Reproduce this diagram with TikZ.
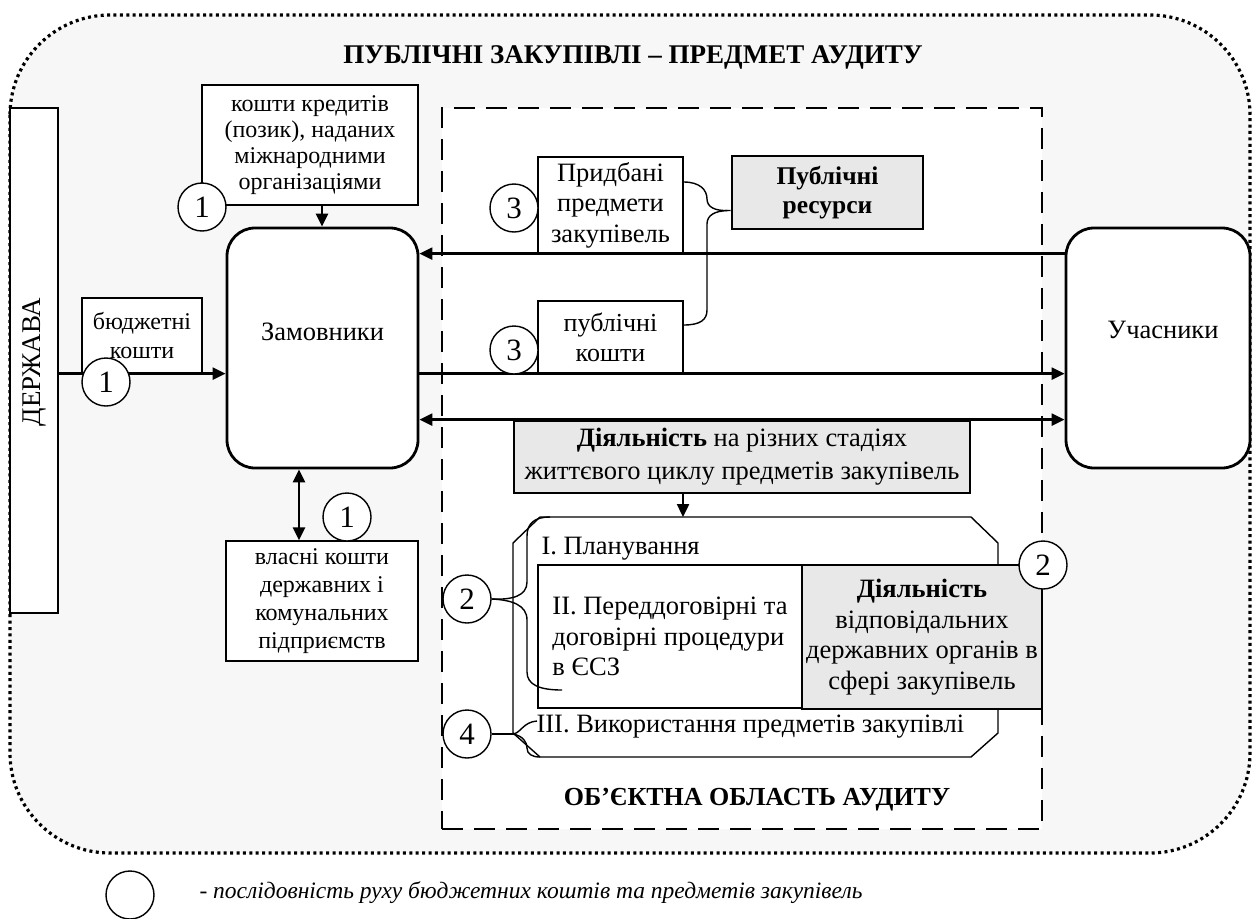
\documentclass[tikz,border=0pt]{standalone}
\usepackage{fontspec}
\setmainfont{Liberation Serif}
\usetikzlibrary{arrows.meta,calc}
\definecolor{bgout}{HTML}{F7F7F7}
\definecolor{graybox}{HTML}{E8E8E8}
\newcommand\basefont{\fontsize{26.5}{30.5}\selectfont}
\newcommand\smallfont{\fontsize{24}{28}\selectfont}
\begin{document}
\begin{tikzpicture}[x=1pt,y=-1pt,font=\basefont,
  thinbox/.style={draw,line width=1.3pt,fill=white,inner sep=0pt,align=center},
  thickbox/.style={draw,line width=2.8pt,inner sep=0pt,align=center},
  roundbox/.style={draw,line width=2.8pt,fill=white,rounded corners=28pt,inner sep=0pt},
  num/.style={circle,draw,line width=1.4pt,fill=white,minimum size=48pt,inner sep=0pt,font=\fontsize{31}{32}\selectfont},
  flow/.style={line width=2.4pt,-{Triangle[length=13pt,width=12pt]}},
  flowboth/.style={line width=2.4pt,{Triangle[length=13pt,width=12pt]}-{Triangle[length=13pt,width=12pt]}},
  brace/.style={line width=1.4pt}]
\useasboundingbox (0,0) rectangle (1252,918);
% outer region
\draw[fill=bgout,line width=3.2pt,dash pattern=on 3pt off 3.4pt,rounded corners=100pt] (10,15) rectangle (1250,853);
\node[font=\fontsize{27}{30}\selectfont\bfseries] (title) at (633,57) {ПУБЛІЧНІ ЗАКУПІВЛІ – ПРЕДМЕТ АУДИТУ};
% scope box
\node[draw,line width=2.8pt,dash pattern=on 21pt off 11pt,fill=white,minimum width=600pt,minimum height=721pt,inner sep=0pt] (scope) at (742,468.5) {};
\node[font=\fontsize{26}{30}\selectfont\bfseries] (scopetxt) at (757,800) {ОБ’ЄКТНА ОБЛАСТЬ АУДИТУ};
% left side
\node[thinbox,minimum width=48pt,minimum height=505pt] (derzh) at (34,360.5) {};
\node[rotate=90,font=\fontsize{27}{30}\selectfont] (derzhtxt) at (34,362) {ДЕРЖАВА};
\node[thinbox,minimum width=216pt,minimum height=120pt,font=\fontsize{24}{26}\selectfont] (kredyt) at (310,145) {кошти кредитів\\(позик), наданих\\міжнародними\\організаціями};
\node[roundbox,minimum width=191pt,minimum height=240pt] (zamov) at (322.5,348) {};
\node (zamovtxt) at (322.5,332) {Замовники};
\node[thinbox,minimum width=120pt,minimum height=75pt,font=\fontsize{24}{29}\selectfont] (budzh) at (142,335.5) {бюджетні\\кошти};
\node[thinbox,minimum width=192pt,minimum height=120pt,font=\smallfont] (vlasni) at (322,601) {власні кошти\\державних і\\комунальних\\підприємств};
% right side
\node[roundbox,minimum width=184pt,minimum height=240pt] (uchas) at (1158,348) {};
\node (uchastxt) at (1163,330) {Учасники};
% connectors
\coordinate (xk) at (322,0);
\coordinate (xv) at (299,0);
\draw[flow] (xk |- kredyt.south) -- (xk |- zamov.north);
\draw[flow] (derzh.east |- budzh.south) -- (zamov.west |- budzh.south);
\draw[flowboth] (xv |- zamov.south) -- (xv |- vlasni.north);
% resources
\node[thinbox,minimum width=145pt,minimum height=96pt] (prydb) at (610.5,205) {Придбані\\предмети\\закупівель};
\node[thinbox,minimum width=145pt,minimum height=72pt,font=\fontsize{26}{30}\selectfont] (publ) at (610.5,337) {публічні\\кошти};
\node[thickbox,fill=graybox,minimum width=191pt,minimum height=73pt,font=\fontsize{25.5}{29}\selectfont\bfseries] (resursy) at (827.5,192.5) {Публічні\\ресурси};
\draw[flow] (uchas.west |- prydb.south) -- (zamov.east |- prydb.south);
\draw[flow] (zamov.east |- publ.south) -- (uchas.west |- publ.south);
\node[thickbox,fill=graybox,minimum width=456pt,minimum height=72pt,font=\fontsize{26.5}{33}\selectfont] (diyal) at (742,457) {\textbf{Діяльність} на різних стадіях\\життєвого циклу предметів закупівель};
\draw[flowboth] (zamov.east |- diyal.north) -- (uchas.west |- diyal.north);
% brace to resources
\coordinate (tip) at ($(resursy.west)+(-3,18)$);
\draw[brace] ($(prydb.east)+(0,-23)$) .. controls (700,182) and (707,190) .. (707,199) .. controls (707,207) and (715,211) .. (tip) -- ($(resursy.west)+(0,18)$);
\draw[brace] (tip) .. controls (715,211) and (707,215) .. (707,224) -- (707,310) .. controls (707,320) and (700,325) .. ($(publ.east)+(0,-12)$);
% life cycle block
\draw[line width=1.4pt,fill=white] (540,517) -- (971,517) -- (998,543) -- (998,733) -- (971,757) -- (540,757) -- (513,733) -- (513,543) -- cycle;
\coordinate (octtop) at (683,517);
\coordinate (xd) at (683,0);
\draw[flow] (xd |- diyal.south) -- (octtop);
\node[anchor=west] (s1) at (538,549) {I. Планування};
\node[draw,line width=2.8pt,fill=white,minimum width=264pt,minimum height=143pt,inner sep=0pt,align=left] (stage2) at (670,636.5) {II. Переддоговірні та\\договірні процедури\\в ЄСЗ};
\node[thickbox,fill=graybox,minimum width=240pt,minimum height=144pt] (organs) at (922,637) {\textbf{Діяльність}\\відповідальних\\державних органів в\\сфері закупівель};
\node[anchor=west] (s3) at (533,727) {III. Використання предметів закупівлі};
% numbered circles
\node[num] (c1a) at (202,207) {1};
\node[num] (c1b) at (106,382) {1};
\node[num] (c1c) at (347,517) {1};
\node[num] (c3a) at (514,208) {3};
\node[num] (c3b) at (514,350) {3};
\node[num] (c2a) at (1043,565) {2};
\node[num] (c2b) at (467,599) {2};
\node[num] (c4) at (467,734) {4};
% braces to life cycle
\draw[brace] (c2b.east) .. controls (512,600) and (527,596) .. (527,582) -- (527,536) .. controls (527,523) and (535,517) .. (550,517);
\draw[brace] (c2b.east) .. controls (512,600) and (527,605) .. (527,620) -- (527,672) .. controls (527,685) and (540,690) .. (562,690);
\draw[line width=2.4pt] (c4.east) -- (513,734);
\draw[brace] (513,734) .. controls (521,733) and (523,722) .. (537,721);
\draw[brace] (513,734) .. controls (523,736) and (527,742) .. (527,748) .. controls (527,754) and (532,757) .. (540,757);
% legend
\node[num] (leg) at (130,895) {};
\node[anchor=west,font=\fontsize{23.5}{28}\selectfont\itshape] (legtxt) at (196,893) {- послідовність руху бюджетних коштів та предметів закупівель};
\end{tikzpicture}
\end{document}
